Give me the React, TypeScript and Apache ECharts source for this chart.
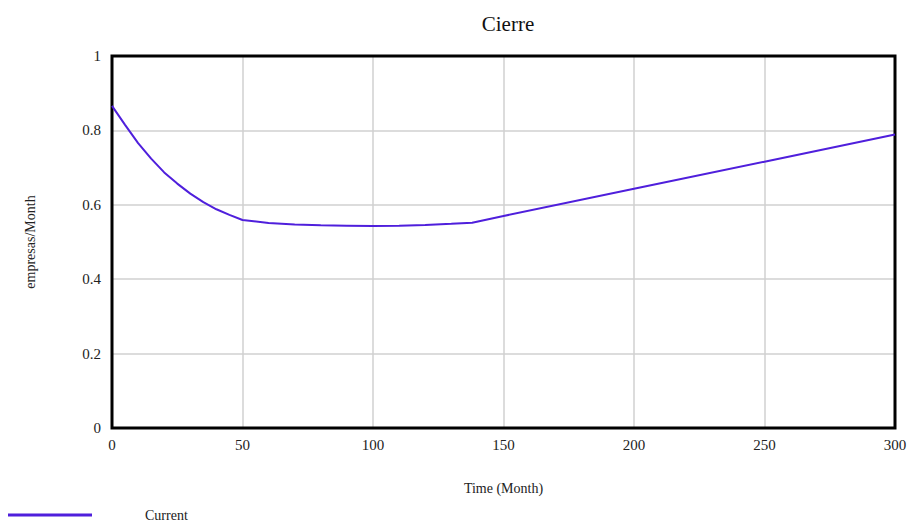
import React, { useEffect, useRef } from "react";
import * as echarts from "echarts";

const months = [0, 5, 10, 15, 20, 25, 30, 35, 40, 45, 50, 60, 70, 80, 90, 100, 110, 120, 130, 138, 150, 200, 250, 300];
const closures = [0.866, 0.815, 0.766, 0.724, 0.687, 0.657, 0.63, 0.607, 0.588, 0.573, 0.559, 0.551, 0.547, 0.545, 0.544, 0.543, 0.544, 0.546, 0.549, 0.552, 0.57, 0.643, 0.716, 0.789];
const seriesName = "Current";
const titleText = "Cierre";
const xName = "Time (Month)";
const yName = "empresas/Month";

const FONT = "'Liberation Serif', 'DejaVu Serif', serif";

export default function App() {
  const ref = useRef<HTMLDivElement>(null);
  useEffect(() => {
    if (!ref.current) return;
    const chart = echarts.init(ref.current, undefined, { renderer: "svg" });
    chart.setOption({
      animation: false,
      backgroundColor: "#fff",
      title: {
        text: titleText,
        left: 503,
        textAlign: "center",
        top: 8,
        textStyle: { fontFamily: FONT, fontSize: 21, fontWeight: "normal", color: "#111" },
      },
      legend: {
        left: 8,
        top: 508,
        padding: 0,
        icon: "rect",
        itemWidth: 84,
        itemHeight: 3,
        textStyle: { fontFamily: FONT, fontSize: 14, color: "#222", padding: [0, 0, 0, 48] },
        data: [seriesName],
      },
      grid: {
        left: 112,
        right: 21,
        top: 56,
        bottom: 95,
        show: true,
        borderColor: "#000",
        borderWidth: 3,
        backgroundColor: "transparent",
        z: 3,
      },
      xAxis: {
        type: "value",
        min: 0,
        max: 300,
        interval: 50,
        name: xName,
        nameLocation: "middle",
        nameGap: 53,
        nameTextStyle: { fontFamily: FONT, fontSize: 14, color: "#222" },
        axisLine: { show: false },
        axisTick: { show: false },
        axisLabel: { fontFamily: FONT, fontSize: 15, color: "#222", margin: 9 },
        splitLine: { show: true, showMinLine: false, showMaxLine: false, lineStyle: { color: "#d0d0d0", width: 1.5 } },
      },
      yAxis: {
        type: "value",
        min: 0,
        max: 1,
        interval: 0.2,
        name: yName,
        nameLocation: "middle",
        nameGap: 75,
        nameRotate: 90,
        nameTextStyle: { fontFamily: FONT, fontSize: 14, color: "#222" },
        axisLine: { show: false },
        axisTick: { show: false },
        axisLabel: { fontFamily: FONT, fontSize: 15, color: "#222", margin: 11 },
        splitLine: { show: true, showMinLine: false, showMaxLine: false, lineStyle: { color: "#d0d0d0", width: 1.5 } },
      },
      series: [
        {
          name: seriesName,
          type: "line",
          data: months.map((m, i) => [m, closures[i]]),
          showSymbol: false,
          smooth: false,
          lineStyle: { color: "#4f1fdc", width: 2 },
          itemStyle: { color: "#4f1fdc" },
        },
      ],
    });
    return () => chart.dispose();
  }, []);
  return <div ref={ref} style={{ width: 916, height: 523, position: "absolute", left: 0, top: 0 }} />;
}
